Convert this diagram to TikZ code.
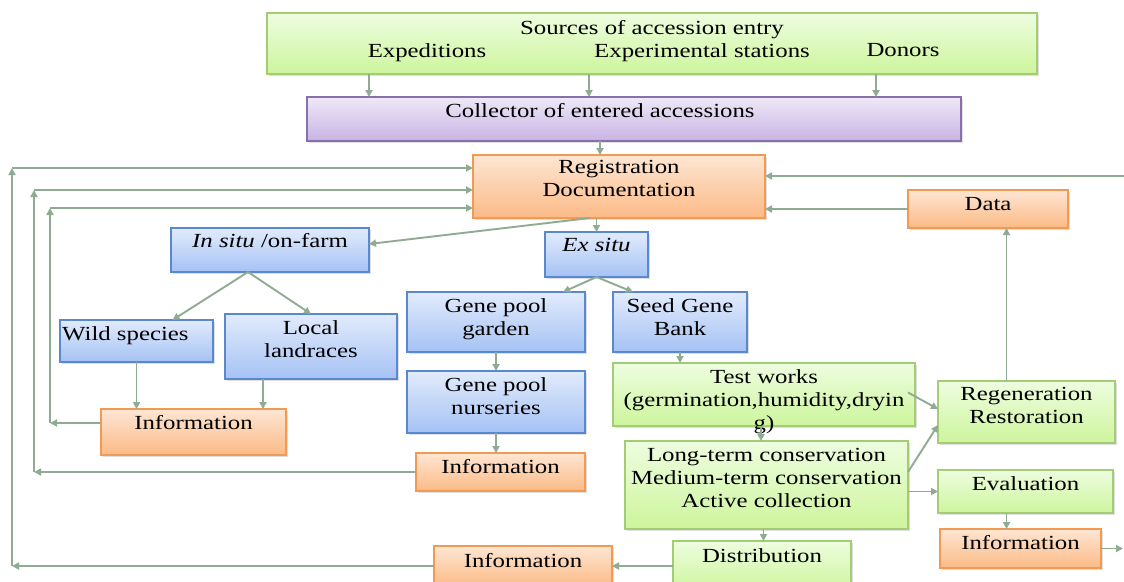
\documentclass[tikz,border=0pt]{standalone}
\usepackage{fontspec}
\setmainfont{Liberation Serif}[FakeStretch=1.24]
\usetikzlibrary{arrows.meta,shadows}
\definecolor{arrc}{HTML}{8FAC92}
\definecolor{gtop}{HTML}{EEFDE0}
\definecolor{gbot}{HTML}{CDF59C}
\definecolor{gbd}{HTML}{A3CC75}
\definecolor{ptop}{HTML}{EFE9F8}
\definecolor{pbot}{HTML}{C7B3E3}
\definecolor{pbd}{HTML}{8A6FAD}
\definecolor{otop}{HTML}{FEE6D3}
\definecolor{obot}{HTML}{FBBA86}
\definecolor{obd}{HTML}{F39A52}
\definecolor{btop}{HTML}{E2EBFC}
\definecolor{bbot}{HTML}{A5C2F4}
\definecolor{bbd}{HTML}{5A88CE}
\begin{document}
\begin{tikzpicture}[x=1pt,y=-1pt,
  box/.style={draw, line width=1.2pt, inner sep=0pt, outer sep=0pt,
    drop shadow={opacity=0.25, shadow xshift=1.5pt, shadow yshift=-1.5pt}},
  gbox/.style={box, draw=gbd, top color=gtop, bottom color=gbot},
  pbox/.style={box, draw=pbd, top color=ptop, bottom color=pbot},
  obox/.style={box, draw=obd, top color=otop, bottom color=obot},
  bbox/.style={box, draw=bbd, top color=btop, bottom color=bbot},
  txt/.style={anchor=north, inner sep=0pt, align=center, font=\fontsize{20}{23}\selectfont},
  arr/.style={draw=arrc, line width=1.9pt, -{Triangle[length=7pt,width=7pt]}}]
\useasboundingbox (0,0) rectangle (1124,581);
\clip (0,0) rectangle (1124,581);
\fill[white] (0,0) rectangle (1124,581);

% boxes
\node[gbox, minimum width=770pt, minimum height=61pt] (src) at (652,43.5) {};
\node[pbox, minimum width=654pt, minimum height=44pt] (col) at (634,119) {};
\node[obox, minimum width=292pt, minimum height=63pt] (reg) at (619,186.5) {};
\node[obox, minimum width=160pt, minimum height=38pt] (data) at (988,209) {};
\node[bbox, minimum width=198pt, minimum height=44pt] (insitu) at (270,250) {};
\node[bbox, minimum width=103pt, minimum height=45pt] (exsitu) at (596.5,254.5) {};
\node[bbox, minimum width=153pt, minimum height=42pt] (wild) at (136.5,341) {};
\node[bbox, minimum width=172pt, minimum height=65pt] (local) at (311,346.5) {};
\node[bbox, minimum width=178pt, minimum height=60pt] (garden) at (496,322) {};
\node[bbox, minimum width=134pt, minimum height=60pt] (seed) at (680,322) {};
\node[bbox, minimum width=178pt, minimum height=62pt] (nurs) at (496,402) {};
\node[obox, minimum width=185pt, minimum height=46pt] (info1) at (193.5,432) {};
\node[obox, minimum width=169pt, minimum height=38pt] (info2) at (500.5,472) {};
\node[obox, minimum width=178pt, minimum height=40pt] (info3) at (523,566) {};
\node[gbox, minimum width=302pt, minimum height=63pt] (test) at (764,394.5) {};
\node[gbox, minimum width=283pt, minimum height=88pt] (long) at (766.5,485) {};
\node[gbox, minimum width=178pt, minimum height=50pt] (dist) at (762,566) {};
\node[gbox, minimum width=177pt, minimum height=62pt] (regen) at (1026.5,412) {};
\node[gbox, minimum width=175pt, minimum height=43pt] (eval) at (1025.5,491.5) {};
\node[obox, minimum width=161pt, minimum height=39pt] (info4) at (1020.5,548.5) {};

% texts
\node[txt] (srcT) at ([yshift=-7pt]src.north) {Sources of accession entry};
\node[txt] (srcE) at (427,43) {Expeditions};
\node[txt] (srcX) at (702,43) {Experimental stations};
\node[txt] (srcD) at (903,43) {Donors};
\node[txt] (colT) at ([xshift=-34pt,yshift=-6pt]col.north) {Collector of entered accessions};
\node[txt] (regT) at ([yshift=-5pt]reg.north) {Registration\\Documentation};
\node[txt] (dataT) at ([yshift=-7pt]data.north) {Data};
\node[txt] (insituT) at ([yshift=-5pt]insitu.north) {\textit{In situ} /on-farm};
\node[txt] (exsituT) at ([yshift=-6pt]exsitu.north) {\textit{Ex situ}};
\node[txt, anchor=north west] (wildT) at ([xshift=2pt,yshift=-6pt]wild.north west) {Wild species};
\node[txt] (localT) at ([yshift=-6pt]local.north) {Local\\landraces};
\node[txt] (gardenT) at ([yshift=-6pt]garden.north) {Gene pool\\garden};
\node[txt] (seedT) at ([yshift=-6pt]seed.north) {Seed Gene\\Bank};
\node[txt] (nursT) at ([yshift=-6pt]nurs.north) {Gene pool\\nurseries};
\node[txt] (info1T) at ([yshift=-6pt]info1.north) {Information};
\node[txt] (info2T) at ([yshift=-6pt]info2.north) {Information};
\node[txt] (info3T) at ([yshift=-7pt]info3.north) {Information};
\node[txt] (testT) at ([yshift=-6pt]test.north) {Test works\\(germination,humidity,dryin\\g)};
\node[txt] (longT) at ([yshift=-7pt]long.north) {Long-term conservation\\Medium-term conservation\\Active collection};
\node[txt] (distT) at ([yshift=-7pt]dist.north) {Distribution};
\node[txt] (regenT) at ([yshift=-6pt]regen.north) {Regeneration\\Restoration};
\node[txt] (evalT) at ([yshift=-6pt]eval.north) {Evaluation};
\node[txt] (info4T) at ([yshift=-6pt]info4.north) {Information};

% connectors
\draw[arr] ([xshift=-283pt]src.south) -- ([xshift=-283pt]src.south |- col.north);
\draw[arr] ([xshift=-63pt]src.south) -- ([xshift=-63pt]src.south |- col.north);
\draw[arr] ([xshift=224pt]src.south) -- ([xshift=224pt]src.south |- col.north);
\draw[arr] ([xshift=-19pt]reg.north |- col.south) -- ([xshift=-19pt]reg.north);
\draw[arr] ([xshift=-29pt]reg.south) -- ([yshift=6pt]insitu.east);
\draw[arr] (reg.south -| exsitu.north) -- (exsitu.north);
\coordinate (isb) at ([xshift=-22pt]insitu.south);
\draw[arr] (isb) -- ([xshift=36pt]wild.north);
\draw[arr] (isb) -- (local.north);
\draw[arr] (exsitu.south) -- ([xshift=67pt]garden.north);
\draw[arr] (exsitu.south) -- ([xshift=-47pt]seed.north);
\draw[arr] (wild.south) -- (wild.south |- info1.north);
\draw[arr] ([xshift=-48pt]local.south) -- ([xshift=-48pt]local.south |- info1.north);
\draw[arr] (garden.south) -- (nurs.north);
\draw[arr] (nurs.south) -- (nurs.south |- info2.north);
\draw[arr] (seed.south) -- (seed.south |- test.north);
\draw[arr] ([xshift=-3pt]test.south) -- ([xshift=-3pt]test.south |- long.north);
\draw[arr] ([xshift=-3pt]long.south) -- ([xshift=-3pt]long.south |- dist.north);
\draw[arr] (dist.west) -- (info3.east);
\draw[arr] ([xshift=-7pt,yshift=2pt]test.east) -- ([yshift=3pt]regen.west);
\draw[arr] ([yshift=13pt]long.east) -- ([yshift=-13pt]regen.west);
\draw[arr] (long.east |- eval.west) -- (eval.west);
\draw[arr] ([xshift=-19pt]eval.south) -- ([xshift=-19pt]eval.south |- info4.north);
\coordinate (rt2) at (1123,548.5);
\draw[arr] (info4.east) -- (rt2);
\draw[arr] ([xshift=-20pt]regen.north) -- ([xshift=-20pt]regen.north |- data.south);
\draw[arr] (data.west) -- (data.west -| reg.east);
\coordinate (rt1) at (1124,176);
\draw[arr] (rt1) -- (rt1 -| reg.east);

% feedback loops
\coordinate (o1t) at (12,168);
\coordinate (o2t) at (34,190);
\coordinate (o3t) at (50,208);
\draw[arr] (info3.west) -- (info3.west -| o1t);
\draw[arr] (info3.west -| o1t) -- (o1t);
\draw[arr] (o1t) -- (o1t -| reg.west);
\draw[arr] (info2.west) -- (info2.west -| o2t);
\draw[arr] (info2.west -| o2t) -- (o2t);
\draw[arr] (o2t) -- (o2t -| reg.west);
\coordinate (i1w) at ([yshift=9pt]info1.west);
\draw[arr] (i1w) -- (i1w -| o3t);
\draw[arr] (i1w -| o3t) -- (o3t);
\draw[arr] (o3t) -- (o3t -| reg.west);
\end{tikzpicture}
\end{document}
